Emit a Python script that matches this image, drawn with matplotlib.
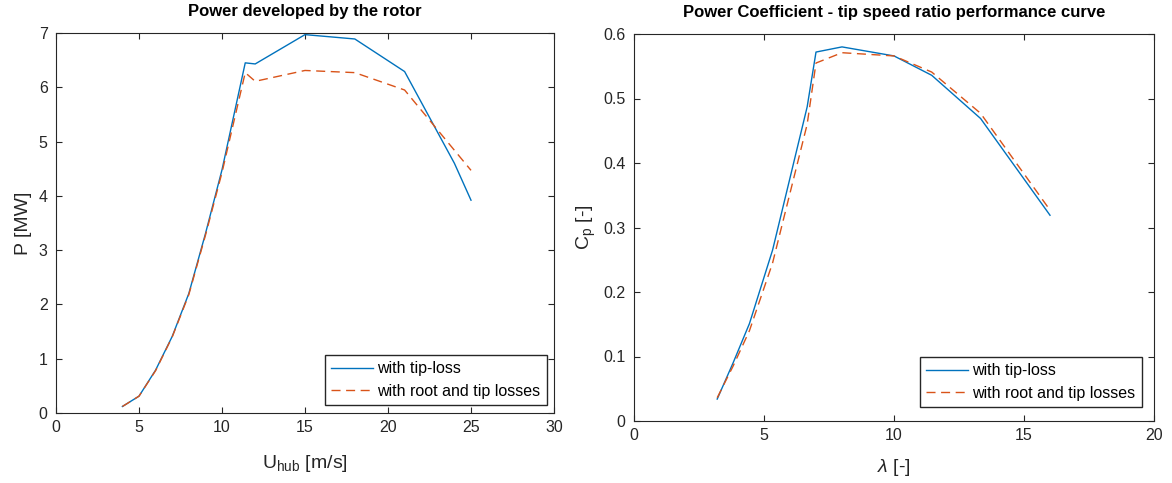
import matplotlib
matplotlib.use('Agg')
import matplotlib.pyplot as plt

plt.rcParams['font.family'] = ['Liberation Sans', 'DejaVu Sans']
plt.rcParams['mathtext.fontset'] = 'custom'
plt.rcParams['mathtext.rm'] = 'Liberation Sans'
plt.rcParams['mathtext.it'] = 'Liberation Sans:italic'

# rotor power vs hub wind speed
u_hub = [4, 5, 6, 7, 8, 9, 10, 11.4, 12, 15, 18, 21, 24, 25]
p_tip = [0.12, 0.31, 0.79, 1.41, 2.2, 3.3, 4.48, 6.45, 6.43, 6.97, 6.89, 6.29, 4.6, 3.92]
p_root_tip = [0.12, 0.31, 0.78, 1.40, 2.18, 3.27, 4.43, 6.27, 6.11, 6.31, 6.27, 5.95, 4.84, 4.47]

# power coefficient vs tip speed ratio
tsr = [3.2, 3.81, 4.44, 5.33, 6.66, 7.0, 8.0, 10.0, 11.45, 13.33, 16.0]
cp_tip = [0.034, 0.09, 0.151, 0.265, 0.487, 0.572, 0.58, 0.566, 0.536, 0.469, 0.319]
cp_root_tip = [0.036, 0.085, 0.14, 0.245, 0.46, 0.555, 0.571, 0.566, 0.541, 0.477, 0.327]

labels = ['with tip-loss', 'with root and tip losses']
c_blue = '#0072BD'
c_orange = '#D95319'
axcol = '#262626'
title_font = ['Liberation Sans Narrow', 'Liberation Sans', 'DejaVu Sans']

fig = plt.figure(figsize=(11.72, 4.83), dpi=100)
ax1 = fig.add_axes([56/1172, 70/483, 498/1172, 380/483])
ax2 = fig.add_axes([634/1172, 62/483, 520/1172, 387/483])


def style(ax):
    ax.tick_params(direction='in', top=True, right=True, labelsize=11.5,
                   colors=axcol, length=4, width=0.8)
    ax.tick_params(axis='y', pad=6)
    ax.tick_params(axis='x', pad=5)
    for s in ax.spines.values():
        s.set_color(axcol)
        s.set_linewidth(0.8)


def add_legend(ax, anchor):
    ax.legend(loc='lower right', bbox_to_anchor=anchor, borderaxespad=0,
              fontsize=11.5, fancybox=False, edgecolor=axcol, framealpha=1,
              borderpad=0.4, handlelength=2.6, handletextpad=0.3,
              labelspacing=0.45)


ax1.plot(u_hub, p_tip, color=c_blue, lw=1.0, label=labels[0])
ax1.plot(u_hub, p_root_tip, color=c_orange, lw=1.0, dashes=(6.5, 4), label=labels[1])
ax1.set_xlim(0, 30)
ax1.set_ylim(0, 7)
ax1.set_xticks(range(0, 31, 5))
ax1.set_yticks(range(0, 8))
ax1.set_title('Power developed by the rotor', fontsize=12, fontweight='bold',
              pad=12, family=title_font)
ax1.set_xlabel(r'U$_{\mathrm{hub}}$ [m/s]', fontsize=14, color=axcol, labelpad=13)
ax1.set_ylabel('P [MW]', fontsize=14, color=axcol, labelpad=5)
style(ax1)
add_legend(ax1, (0.986, 0.021))

ax2.plot(tsr, cp_tip, color=c_blue, lw=1.0, label=labels[0])
ax2.plot(tsr, cp_root_tip, color=c_orange, lw=1.0, dashes=(6.5, 4), label=labels[1])
ax2.set_xlim(0, 20)
ax2.set_ylim(0, 0.6)
ax2.set_xticks(range(0, 21, 5))
ax2.set_yticks([0, 0.1, 0.2, 0.3, 0.4, 0.5, 0.6])
ax2.set_yticklabels(['0', '0.1', '0.2', '0.3', '0.4', '0.5', '0.6'])
ax2.set_title('Power Coefficient - tip speed ratio performance curve', fontsize=12,
              fontweight='bold', pad=12, family=title_font)
ax2.set_xlabel(r'$\lambda$ [-]', fontsize=14, color=axcol, labelpad=10)
ax2.set_ylabel(r'C$_{\mathrm{p}}$ [-]', fontsize=14, color=axcol)
style(ax2)
add_legend(ax2, (0.977, 0.036))

fig.savefig('out.png', dpi=100)
